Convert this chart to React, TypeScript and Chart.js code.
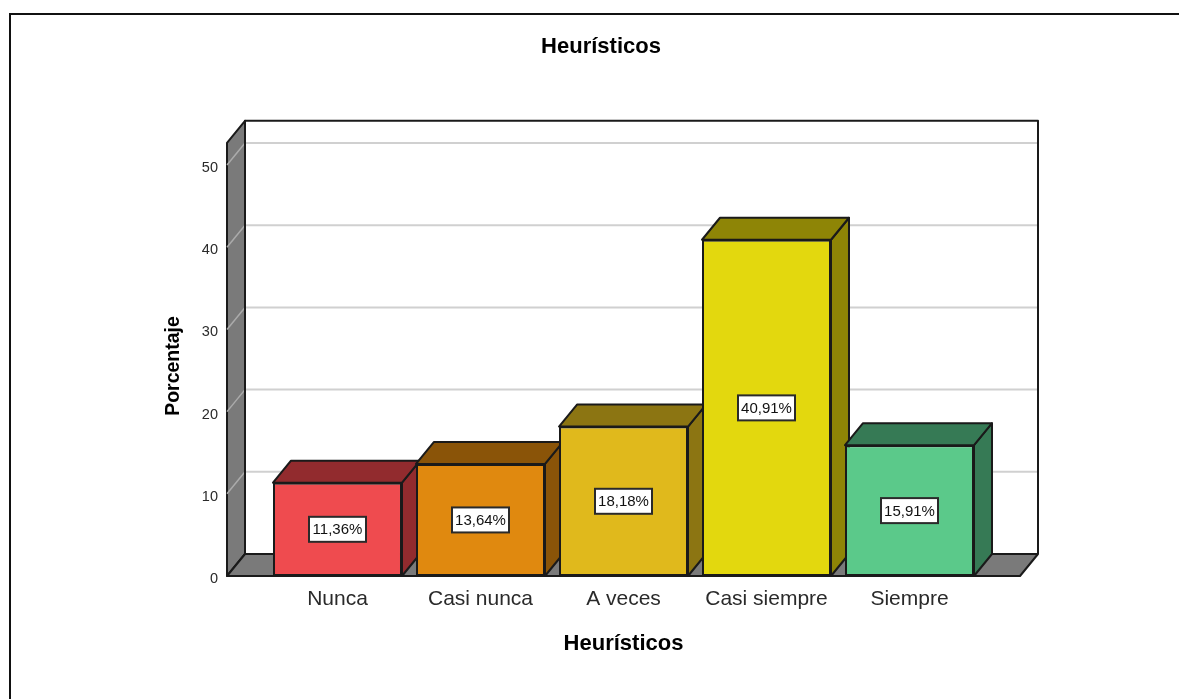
import React, { useEffect, useRef } from "react";
import { Chart, registerables } from "chart.js";

Chart.register(...registerables);

const chartTitle = "Heurísticos";
const xAxisTitle = "Heurísticos";
const yAxisTitle = "Porcentaje";
const categories = ["Nunca", "Casi nunca", "A veces", "Casi siempre", "Siempre"];
const percentages = [11.36, 13.64, 18.18, 40.91, 15.91];
const yTicks = [0, 10, 20, 30, 40, 50];
const faceColors = ["#EF4B4F", "#E0890F", "#E0B91C", "#E3D80E", "#5BC98A"];
const shadeColors = ["#922B2E", "#8A5408", "#8C7512", "#8E8506", "#367A55"];

const FONT = '"Liberation Sans", Arial, sans-serif';
const DEPTH_X = 18;
const DEPTH_Y = 22;
const FLOOR_OVERHANG = 39;
const WALL_TOP_VALUE = 52.7;
const WALL_GRAY = "#7A7A7A";
const EDGE = "#1A1A1A";

function polygon(ctx: CanvasRenderingContext2D, pts: number[][], fill: string, stroke: string, lw = 2) {
  ctx.beginPath();
  pts.forEach(([x, y], i) => (i ? ctx.lineTo(x, y) : ctx.moveTo(x, y)));
  ctx.closePath();
  ctx.fillStyle = fill;
  ctx.fill();
  ctx.lineJoin = "round";
  ctx.lineWidth = lw;
  ctx.strokeStyle = stroke;
  ctx.stroke();
}

// Back wall, side wall, floor and gridlines, then the side and top faces of every bar.
const boxPlugin = {
  id: "box3d",
  beforeDatasetsDraw(chart: any) {
    const { ctx, chartArea, scales } = chart;
    const y = scales.y;
    const left = chartArea.left - FLOOR_OVERHANG;
    const right = chartArea.right + FLOOR_OVERHANG;
    const top = y.getPixelForValue(WALL_TOP_VALUE);
    const bottom = chartArea.bottom;
    ctx.save();

    // back wall
    ctx.fillStyle = "#FFFFFF";
    ctx.fillRect(left + DEPTH_X, top - DEPTH_Y, right - left, bottom - top);
    // side wall and floor
    polygon(ctx, [[left, top], [left + DEPTH_X, top - DEPTH_Y], [left + DEPTH_X, bottom - DEPTH_Y], [left, bottom]], WALL_GRAY, EDGE);
    polygon(ctx, [[left, bottom], [left + DEPTH_X, bottom - DEPTH_Y], [right + DEPTH_X, bottom - DEPTH_Y], [right, bottom]], WALL_GRAY, EDGE);

    yTicks.slice(1).forEach((v) => {
      const py = y.getPixelForValue(v);
      ctx.beginPath();
      ctx.moveTo(left, py);
      ctx.lineTo(left + DEPTH_X, py - DEPTH_Y);
      ctx.lineWidth = 1.5;
      ctx.strokeStyle = "#ABABAB";
      ctx.stroke();
      ctx.beginPath();
      ctx.moveTo(left + DEPTH_X + 1, py - DEPTH_Y);
      ctx.lineTo(right + DEPTH_X, py - DEPTH_Y);
      ctx.lineWidth = 2;
      ctx.strokeStyle = "#D0D0D0";
      ctx.stroke();
    });

    // outline of the back wall
    ctx.beginPath();
    ctx.moveTo(left + DEPTH_X, bottom - DEPTH_Y);
    ctx.lineTo(left + DEPTH_X, top - DEPTH_Y);
    ctx.lineTo(right + DEPTH_X, top - DEPTH_Y);
    ctx.lineTo(right + DEPTH_X, bottom - DEPTH_Y);
    ctx.lineWidth = 2;
    ctx.strokeStyle = EDGE;
    ctx.stroke();

    chart.getDatasetMeta(0).data.forEach((bar: any, i: number) => {
      const l = bar.x - bar.width / 2;
      const r = bar.x + bar.width / 2;
      polygon(ctx, [[r, bar.y], [r + DEPTH_X, bar.y - DEPTH_Y], [r + DEPTH_X, bar.base - DEPTH_Y], [r, bar.base]], shadeColors[i], EDGE);
      polygon(ctx, [[l, bar.y], [l + DEPTH_X, bar.y - DEPTH_Y], [r + DEPTH_X, bar.y - DEPTH_Y], [r, bar.y]], shadeColors[i], EDGE);
    });
    ctx.restore();
  },
  // Boxed percentage labels centred on the front faces.
  afterDatasetsDraw(chart: any) {
    const { ctx } = chart;
    ctx.save();
    ctx.font = `15px ${FONT}`;
    ctx.textAlign = "center";
    ctx.textBaseline = "middle";
    chart.getDatasetMeta(0).data.forEach((bar: any, i: number) => {
      const cy = (bar.y + bar.base) / 2;
      ctx.fillStyle = "#FFFFFF";
      ctx.fillRect(bar.x - 28.5, cy - 12.5, 57, 25);
      ctx.lineWidth = 2;
      ctx.strokeStyle = "#2A2A2A";
      ctx.strokeRect(bar.x - 28.5, cy - 12.5, 57, 25);
      ctx.fillStyle = "#111111";
      ctx.fillText(percentages[i].toFixed(2).replace(".", ",") + "%", bar.x, cy + 1);
    });
    ctx.restore();
  },
};

export default function App() {
  const ref = useRef<HTMLCanvasElement>(null);

  useEffect(() => {
    const chart = new Chart(ref.current!, {
      type: "bar",
      data: {
        labels: categories,
        datasets: [
          {
            data: percentages,
            backgroundColor: faceColors,
            borderColor: EDGE,
            borderWidth: 2,
            borderSkipped: false,
            barPercentage: 0.902,
            categoryPercentage: 1,
          },
        ],
      },
      options: {
        animation: false,
        responsive: false,
        layout: { padding: { left: 23, right: 0, top: 0, bottom: 0 } },
        plugins: {
          legend: { display: false },
          tooltip: { enabled: false },
          title: {
            display: true,
            text: chartTitle,
            color: "#000000",
            font: { family: FONT, size: 22, weight: "bold", lineHeight: 1.2 },
            padding: { top: 34, bottom: 95.6 },
          },
        },
        scales: {
          x: {
            grid: { display: false },
            border: { display: false },
            ticks: { color: "#2A2A2A", font: { family: FONT, size: 21 }, padding: 3, maxRotation: 0 },
            title: {
              display: true,
              text: xAxisTitle,
              color: "#000000",
              font: { family: FONT, size: 22, weight: "bold", lineHeight: 1.2 },
              padding: { top: 0, bottom: 42 },
            },
            afterFit: (s: any) => { s.height = 123; },
          },
          y: {
            min: 0,
            max: 51.1,
            grid: { display: false, drawTicks: false },
            border: { display: false },
            ticks: {
              color: "#2A2A2A",
              font: { family: FONT, size: 14.5 },
              padding: 48,
              stepSize: 10,
              includeBounds: false,
              labelOffset: 3,
            },
            title: {
              display: true,
              text: yAxisTitle,
              color: "#000000",
              font: { family: FONT, size: 19.5, weight: "bold", lineHeight: 1.2 },
              padding: { top: 139, bottom: 0 },
            },
            afterFit: (s: any) => { s.width = 243; },
          },
          // Empty margin on the right that keeps the plot clear of the page edge.
          margin: {
            position: "right",
            display: true,
            grid: { display: false },
            border: { display: false },
            ticks: { display: false },
            afterFit: (s: any) => { s.width = 198; },
          },
        },
      },
      plugins: [boxPlugin],
    } as any);
    return () => chart.destroy();
  }, []);

  return (
    <div style={{ position: "fixed", inset: 0, background: "#FFFFFF", overflow: "hidden" }}>
      <canvas ref={ref} width={1179} height={699} style={{ display: "block" }} />
      <div
        style={{
          position: "absolute",
          left: 9,
          top: 13,
          right: 0,
          bottom: 0,
          borderTop: "2px solid #111111",
          borderLeft: "2px solid #111111",
          boxSizing: "border-box",
          pointerEvents: "none",
        }}
      />
    </div>
  );
}
